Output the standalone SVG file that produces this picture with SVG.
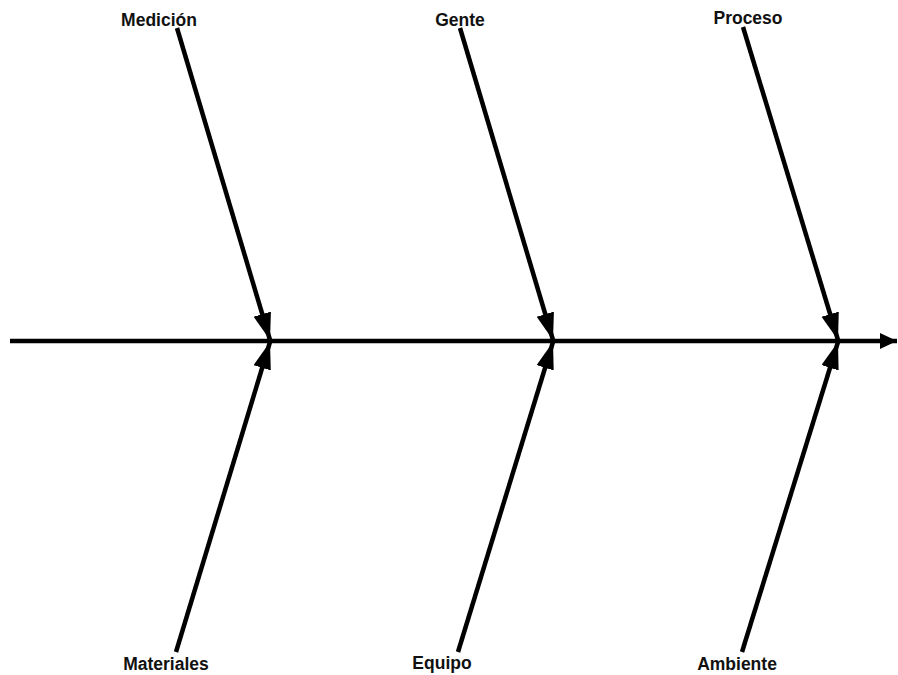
<svg xmlns="http://www.w3.org/2000/svg" width="898" height="675" viewBox="0 0 898 675">
  <style>
    .bg { fill: #ffffff; }
    .bone { stroke: #000; stroke-width: 4.5; fill: none; }
    .lbl { font-family: "Liberation Sans", Arial, sans-serif; font-weight: bold; font-size: 17.5px; fill: #111; text-anchor: middle; }
  </style>
  <defs>
    <marker id="ah" markerUnits="userSpaceOnUse" markerWidth="30" markerHeight="20" refX="27" refY="9" orient="auto">
      <path d="M0,0 L27,9 L0,18 z" fill="#000"/>
    </marker>
    <marker id="ahSpine" markerUnits="userSpaceOnUse" markerWidth="20" markerHeight="18" refX="17" refY="8" orient="auto">
      <path d="M0,0 L17,8 L0,16 z" fill="#000"/>
    </marker>
  </defs>
  <rect class="bg" x="0" y="0" width="898" height="675"/>
  <g id="connectors">
    <line id="spine" class="bone" x1="10" y1="341" x2="897" y2="341" marker-end="url(#ahSpine)"/>
    <line class="bone" x1="177" y1="28" x2="270" y2="340" marker-end="url(#ah)"/>
    <line class="bone" x1="460" y1="28" x2="553" y2="340" marker-end="url(#ah)"/>
    <line class="bone" x1="743" y1="27" x2="838" y2="340" marker-end="url(#ah)"/>
    <line class="bone" x1="176" y1="652" x2="270" y2="342" marker-end="url(#ah)"/>
    <line class="bone" x1="458" y1="652" x2="553" y2="342" marker-end="url(#ah)"/>
    <line class="bone" x1="742" y1="652" x2="838" y2="342" marker-end="url(#ah)"/>
  </g>
  <g id="medicion"><text class="lbl" x="159" y="26">Medición</text></g>
  <g id="gente"><text class="lbl" x="460" y="26">Gente</text></g>
  <g id="proceso"><text class="lbl" x="748" y="24">Proceso</text></g>
  <g id="materiales"><text class="lbl" x="166" y="670">Materiales</text></g>
  <g id="equipo"><text class="lbl" x="442" y="669">Equipo</text></g>
  <g id="ambiente"><text class="lbl" x="737" y="670">Ambiente</text></g>
</svg>
